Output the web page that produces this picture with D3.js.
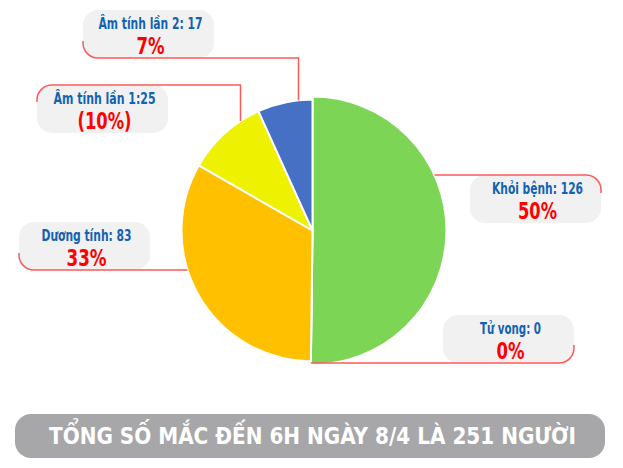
<!DOCTYPE html>
<html><head><meta charset="utf-8">
<script src="https://cdn.jsdelivr.net/npm/d3@7"></script>
<style>
html,body{margin:0;padding:0;background:#fff;}
svg{display:block;}
text{font-family:"Liberation Sans Narrow","DejaVu Sans Condensed","Roboto",sans-serif;font-weight:bold;}
</style></head>
<body>
<svg id="chart" width="623" height="468"></svg>
<script>
// ---- data ----
const categories = ["Khỏi bệnh", "Tử vong", "Dương tính", "Âm tính lần 1", "Âm tính lần 2"];
const values = [126, 0, 83, 25, 17];
const labelTexts = ["Khỏi bệnh: 126", "Tử vong: 0", "Dương tính: 83", "Âm tính lần 1:25", "Âm tính lần 2: 17"];
const percentTexts = ["50%", "0%", "33%", "(10%)", "7%"];
const colors = ["#7dd556", "#7dd556", "#ffc000", "#eef200", "#4570c3"];
const title = "TỔNG SỐ MẮC ĐẾN 6H NGÀY 8/4 LÀ 251 NGƯỜI";

// ---- layout ----
const cx = 312.5, cy = 230.5;
const rBig = 134, rSmall = 131;
const svg = d3.select("#chart");

const pie = d3.pie().sort(null).value(d => d)(values);
const arcFor = i => d3.arc().innerRadius(0).outerRadius(i === 0 ? rBig : rSmall);

const g = svg.append("g").attr("transform", `translate(${cx},${cy})`);
g.selectAll("path").data(pie).join("path")
  .attr("d", (d, i) => arcFor(i)(d))
  .attr("fill", (d, i) => colors[i])
  .attr("stroke", "#fff").attr("stroke-width", 2).attr("stroke-linejoin", "round");

const boxW = 131, boxH = 48, rr = 15;
const boxes = [
  {x: 470, y: 175, corner: "tr"},
  {x: 443, y: 315, corner: "br"},
  {x: 19,  y: 222, corner: "bl", lead: "h"},
  {x: 37,  y: 85,  corner: "tl", lx: 240.5},
  {x: 83,  y: 10,  corner: "bl", lead: "v", lx: 298.5}
];
const titleW = [91, 61, 90, 102, 104];
const pctW = [39, 28, 40, 54, 28];

const lineColor = "#ff5a5a";
boxes.forEach((b, i) => {
  const r = i === 0 || i === 1 ? rBig : rSmall;
  svg.append("rect").attr("x", b.x).attr("y", b.y).attr("width", boxW).attr("height", boxH)
    .attr("rx", rr).attr("ry", rr).attr("fill", "#f1f1f1");
  const p = d3.path();
  const L = b.x, R = b.x + boxW, T = b.y, B = b.y + boxH;
  if (b.corner === "bl") {
    p.moveTo(L, B - 17);
    p.lineTo(L, B - rr);
    p.arcTo(L, B, L + rr, B, rr);
    if (b.lead === "v") {
      const ex = b.lx;
      p.lineTo(ex, B);
      p.lineTo(ex, cy - Math.sqrt(r * r - (ex - cx) * (ex - cx)));
    } else {
      p.lineTo(cx - Math.sqrt(r * r - (B - cy) * (B - cy)), B);
    }
  } else if (b.corner === "tl") {
    p.moveTo(L, T + 17);
    p.lineTo(L, T + rr);
    p.arcTo(L, T, L + rr, T, rr);
    const ex = b.lx;
    p.lineTo(ex, T);
    p.lineTo(ex, cy - Math.sqrt(r * r - (ex - cx) * (ex - cx)));
  } else if (b.corner === "tr") {
    p.moveTo(R, T + 18);
    p.lineTo(R, T + rr);
    p.arcTo(R, T, R - rr, T, rr);
    p.lineTo(cx + Math.sqrt(r * r - (T - cy) * (T - cy)), T);
  } else if (b.corner === "br") {
    p.moveTo(R, B - 18);
    p.lineTo(R, B - rr);
    p.arcTo(R, B, R - rr, B, rr);
    p.lineTo(cx + r * Math.sin(pie[i].startAngle), B);
  }
  svg.append("path").attr("d", p.toString()).attr("fill", "none")
    .attr("stroke", lineColor).attr("stroke-width", 1.5);

  const tx = b.x + boxW / 2 + 2;
  svg.append("text").attr("x", tx).attr("y", b.y + 19)
    .attr("text-anchor", "middle").attr("fill", "#1262b3").attr("font-size", 16.5)
    .attr("textLength", titleW[i]).attr("lengthAdjust", "spacingAndGlyphs")
    .text(labelTexts[i]);
  svg.append("text").attr("x", tx).attr("y", b.y + 43.5)
    .attr("text-anchor", "middle").attr("fill", "#ff0000").attr("font-size", 23.5)
    .attr("textLength", pctW[i]).attr("lengthAdjust", "spacingAndGlyphs")
    .text(percentTexts[i]);
});

svg.append("rect").attr("x", 15).attr("y", 414).attr("width", 590).attr("height", 44)
  .attr("rx", 16).attr("ry", 16).attr("fill", "#a7a7a9");
svg.append("text").attr("x", 49).attr("y", 444).attr("fill", "#ffffff").attr("font-size", 23)
  .attr("textLength", 527).attr("lengthAdjust", "spacingAndGlyphs")
  .text(title);
</script>
</body></html>
